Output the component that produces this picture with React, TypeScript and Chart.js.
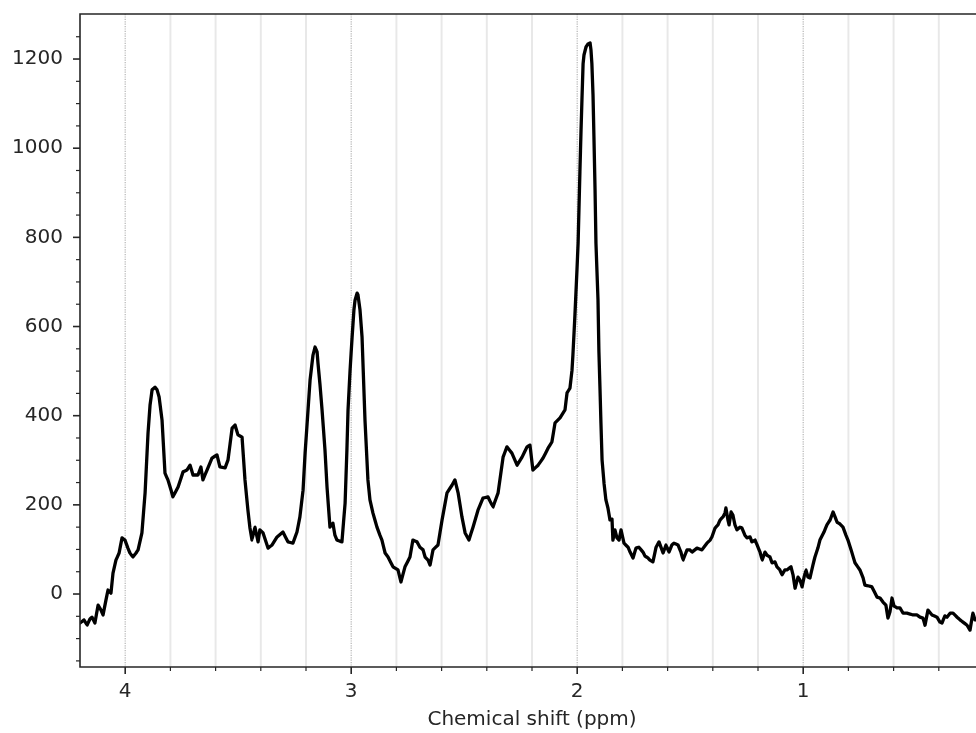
import { useEffect, useRef } from "react";
import { Chart, registerables } from "chart.js";

Chart.register(...registerables);

// Chemical shift axis (ppm) of the 1H spectrum, high to low field
const shiftPpm = [
  4.2, 4.182, 4.169, 4.156, 4.147, 4.134, 4.12, 4.107, 4.098, 4.085, 4.076, 4.063, 4.054, 4.041, 4.027, 4.014,
  4.001, 3.988, 3.979, 3.966, 3.952, 3.943, 3.926, 3.912, 3.899, 3.89, 3.881, 3.868, 3.859, 3.85, 3.837, 3.824,
  3.811, 3.797, 3.789, 3.766, 3.744, 3.727, 3.713, 3.7, 3.678, 3.665, 3.656, 3.638, 3.616, 3.594, 3.581, 3.558,
  3.545, 3.527, 3.514, 3.501,
  3.483, 3.47, 3.457, 3.448, 3.439, 3.426, 3.412, 3.404, 3.39, 3.368, 3.35, 3.328, 3.302, 3.28, 3.258, 3.24,
  3.227, 3.213, 3.204, 3.191, 3.182, 3.169, 3.16, 3.151, 3.147, 3.138, 3.129, 3.116, 3.107, 3.094, 3.081, 3.072,
  3.063, 3.041, 3.027, 3.019, 3.014, 3.005, 2.996, 2.988, 2.983, 2.974, 2.97, 2.961, 2.952, 2.939, 2.926, 2.917,
  2.904, 2.886, 2.873, 2.864, 2.85, 2.837,
  2.815, 2.793, 2.78, 2.762, 2.74, 2.727, 2.709, 2.696, 2.682, 2.673, 2.66, 2.651, 2.638, 2.616, 2.598, 2.576,
  2.554, 2.541, 2.527, 2.51, 2.496, 2.479, 2.461, 2.439, 2.417, 2.395, 2.373, 2.35, 2.328, 2.311, 2.289, 2.266,
  2.244, 2.222, 2.209, 2.196, 2.173, 2.151, 2.129, 2.112, 2.098, 2.076, 2.054, 2.045, 2.032, 2.023,
  2.019, 2.01, 2.001, 1.996, 1.988, 1.983, 1.979, 1.974, 1.97, 1.961, 1.952, 1.943, 1.939, 1.935, 1.93, 1.926,
  1.921, 1.917, 1.908, 1.904, 1.899, 1.895, 1.89, 1.881, 1.873, 1.864, 1.855, 1.846, 1.842, 1.833, 1.824, 1.815,
  1.806, 1.793, 1.775, 1.766, 1.753, 1.74, 1.727, 1.709, 1.7, 1.687,
  1.678, 1.665, 1.651, 1.638, 1.62, 1.607, 1.594, 1.581, 1.572, 1.554, 1.541, 1.532, 1.514, 1.501, 1.492, 1.47,
  1.448, 1.426, 1.412, 1.404, 1.39, 1.377, 1.368, 1.355, 1.346, 1.342, 1.333, 1.328, 1.319, 1.311, 1.302, 1.293,
  1.28, 1.271, 1.258, 1.249, 1.235, 1.227, 1.213, 1.204, 1.191, 1.182, 1.169, 1.16, 1.147, 1.138, 1.125, 1.116,
  1.103, 1.094, 1.081, 1.072, 1.054, 1.045, 1.036, 1.023, 1.014, 1.005,
  0.996, 0.988, 0.979, 0.97, 0.957, 0.948, 0.935, 0.926, 0.908, 0.895, 0.881, 0.868, 0.859, 0.85, 0.837, 0.824,
  0.811, 0.802, 0.788, 0.771, 0.749, 0.735, 0.727, 0.709, 0.696, 0.673, 0.66, 0.647, 0.634, 0.625, 0.616, 0.607,
  0.598, 0.585, 0.572, 0.558, 0.541, 0.527, 0.514, 0.496, 0.483, 0.47, 0.461, 0.448, 0.43, 0.408, 0.395, 0.386,
  0.373, 0.364, 0.35, 0.337, 0.319, 0.306, 0.293, 0.275, 0.262, 0.253, 0.249, 0.24, 0.235, 0.218, 0.2,
];

// Signal intensity (a.u.) at each shift
const intensity = [
  -65, -58, -70, -56, -52, -65, -25, -36, -47, -13, 9, 2, 47, 76, 92, 126,
  121, 103, 92, 83, 92, 99, 137, 227, 361, 424, 458, 464, 458, 442, 390, 271,
  256, 233, 218, 240, 274, 278, 289, 267, 267, 285, 256, 278, 305, 312, 285, 283,
  301, 372, 379, 357,
  352, 256, 188, 148, 121, 150, 117, 144, 137, 103, 110, 128, 139, 117, 114, 139,
  173, 233, 316, 413, 480, 536, 554, 543, 518, 469, 413, 323, 240, 150, 159, 132,
  121, 117, 204, 323, 413, 502, 576, 637, 659, 675, 671, 637, 576, 390, 256, 211,
  182, 150, 132, 121, 92, 83,
  61, 54, 27, 61, 83, 121, 117, 105, 99, 83, 76, 65, 99, 110, 166, 227,
  244, 256, 227, 173, 137, 121, 150, 188, 215, 218, 195, 227, 307, 330, 316, 289,
  307, 330, 334, 278, 289, 305, 327, 341, 384, 395, 413, 451, 462, 502,
  536, 626, 727, 787, 947, 1041, 1108, 1189, 1209, 1227, 1234, 1236, 1220, 1189, 1119, 1027,
  906, 787, 660, 545, 458, 384, 301, 247, 211, 193, 166, 168, 121, 144, 126, 121,
  144, 114, 105, 94, 81, 103, 105, 94, 85, 81,
  76, 72, 105, 117, 92, 110, 94, 110, 114, 110, 94, 76, 99, 99, 94, 103,
  99, 114, 121, 128, 148, 155, 166, 173, 182, 193, 166, 155, 184, 177, 155, 144,
  150, 148, 132, 126, 128, 117, 121, 110, 94, 76, 94, 87, 83, 70, 72, 61,
  54, 43, 54, 54, 61, 43, 13, 38, 31, 16,
  38, 54, 38, 36, 65, 83, 103, 121, 139, 155, 166, 184, 173, 161, 157, 150,
  132, 121, 99, 70, 54, 36, 20, 18, 16, -7, -9, -18, -25, -54, -40, -9,
  -27, -31, -31, -43, -43, -45, -47, -47, -52, -54, -70, -36, -47, -52, -63, -65,
  -49, -52, -43, -43, -52, -58, -63, -70, -81, -54, -43, -58, -58, -63, -54,
];

// Axis ticks: every position gets a tick mark, labelled ones are the majors
const xTicks = [4.0, 3.8, 3.6, 3.4, 3.2, 3.0, 2.8, 2.6, 2.4, 2.2, 2.0, 1.8, 1.6, 1.4, 1.2, 1.0, 0.8, 0.6, 0.4];
const xLabels = [4, 3, 2, 1];
const yTicks = [
  -150, -100, -50, 0, 50, 100, 150, 200, 250, 300, 350, 400, 450, 500, 550, 600, 650, 700, 750,
  800, 850, 900, 950, 1000, 1050, 1100, 1150, 1200, 1250,
];
const yLabels = [0, 200, 400, 600, 800, 1000, 1200];

const X_RANGE = [0.2, 4.2];
const Y_RANGE = [-163.7, 1301];

const FONT = "'DejaVu Sans', 'Liberation Sans', sans-serif";
const INK = "#262626";

const isLabelled = (v: number, list: number[]) => list.some((l) => Math.abs(l - v) < 1e-9);

// Grid lines, tick marks and the box around the plot
const framePlugin = {
  id: "spectrumFrame",
  beforeDatasetsDraw(chart: any) {
    const { ctx, chartArea: a, scales } = chart;
    ctx.save();
    for (const v of xTicks) {
      const px = scales.x.getPixelForValue(v);
      ctx.beginPath();
      if (isLabelled(v, xLabels)) {
        ctx.strokeStyle = "rgba(120,120,120,0.55)";
        ctx.lineWidth = 1.2;
        ctx.setLineDash([1.2, 1.2]);
      } else {
        ctx.strokeStyle = "rgba(0,0,0,0.09)";
        ctx.lineWidth = 2;
        ctx.setLineDash([]);
      }
      ctx.moveTo(px, a.top);
      ctx.lineTo(px, a.bottom);
      ctx.stroke();
    }
    ctx.restore();
  },
  afterDatasetsDraw(chart: any) {
    const { ctx, chartArea: a, scales } = chart;
    ctx.save();
    ctx.strokeStyle = INK;
    ctx.setLineDash([]);
    for (const v of xTicks) {
      const px = scales.x.getPixelForValue(v);
      const major = isLabelled(v, xLabels);
      ctx.lineWidth = major ? 1.6 : 1.2;
      ctx.beginPath();
      ctx.moveTo(px, a.bottom);
      ctx.lineTo(px, a.bottom + (major ? 7 : 4));
      ctx.stroke();
    }
    for (const v of yTicks) {
      const py = scales.y.getPixelForValue(v);
      const major = isLabelled(v, yLabels);
      ctx.lineWidth = major ? 1.6 : 1.2;
      ctx.beginPath();
      ctx.moveTo(a.left, py);
      ctx.lineTo(a.left - (major ? 7 : 4), py);
      ctx.stroke();
    }
    ctx.lineWidth = 1.6;
    ctx.beginPath();
    ctx.moveTo(a.left, a.bottom);
    ctx.lineTo(a.left, a.top);
    ctx.lineTo(a.right, a.top);
    ctx.lineTo(a.right, a.bottom);
    ctx.closePath();
    ctx.stroke();
    ctx.restore();
  },
};

export default function App() {
  const canvasRef = useRef<HTMLCanvasElement | null>(null);

  useEffect(() => {
    if (!canvasRef.current) return;
    const points = shiftPpm.map((x, i) => ({ x, y: intensity[i] }));
    const chart = new Chart(canvasRef.current, {
      type: "line",
      data: {
        datasets: [
          {
            data: points,
            borderColor: "#000000",
            borderWidth: 3.3,
            borderJoinStyle: "round",
            borderCapStyle: "round",
            pointRadius: 0,
            // a tiny tension keeps every vertex (no per-pixel min/max shortcut)
            tension: 0.0001,
            fill: false,
          },
        ],
      },
      plugins: [framePlugin],
      options: {
        animation: false,
        responsive: false,
        devicePixelRatio: 1,
        layout: { autoPadding: false, padding: { left: 0, top: 14, right: 26, bottom: 0 } },
        plugins: { legend: { display: false }, tooltip: { enabled: false } },
        scales: {
          x: {
            type: "linear",
            reverse: true,
            min: X_RANGE[0],
            max: X_RANGE[1],
            grid: { display: false, drawTicks: false },
            border: { display: false },
            afterBuildTicks: (scale: any) => {
              scale.ticks = xTicks.map((value) => ({ value }));
            },
            afterFit: (scale: any) => {
              scale.height = 66;
              scale.paddingLeft = 0;
              scale.paddingRight = 0;
            },
            ticks: {
              autoSkip: false,
              maxRotation: 0,
              padding: 13,
              color: INK,
              font: { family: FONT, size: 20 },
              callback: (value: any) => (isLabelled(Number(value), xLabels) ? String(Math.round(Number(value))) : ""),
            },
            title: {
              display: true,
              text: "Chemical shift (ppm)",
              color: INK,
              font: { family: FONT, size: 20 },
              padding: { top: 0, bottom: 1 },
            },
          },
          y: {
            type: "linear",
            min: Y_RANGE[0],
            max: Y_RANGE[1],
            grid: { display: false, drawTicks: false },
            border: { display: false },
            afterBuildTicks: (scale: any) => {
              scale.ticks = yTicks.map((value) => ({ value }));
            },
            afterFit: (scale: any) => {
              scale.width = 80;
              scale.paddingTop = 0;
              scale.paddingBottom = 0;
            },
            ticks: {
              autoSkip: false,
              padding: 17,
              color: INK,
              font: { family: FONT, size: 20 },
              callback: (value: any) => (isLabelled(Number(value), yLabels) ? String(Math.round(Number(value))) : ""),
            },
          },
        },
      },
    });
    return () => chart.destroy();
  }, []);

  return (
    <div
      style={{
        position: "fixed",
        left: 0,
        top: 0,
        width: 976,
        height: 733,
        overflow: "hidden",
        background: "#ffffff",
      }}
    >
      <canvas ref={canvasRef} width={1010} height={733} style={{ display: "block", width: 1010, height: 733 }} />
    </div>
  );
}
